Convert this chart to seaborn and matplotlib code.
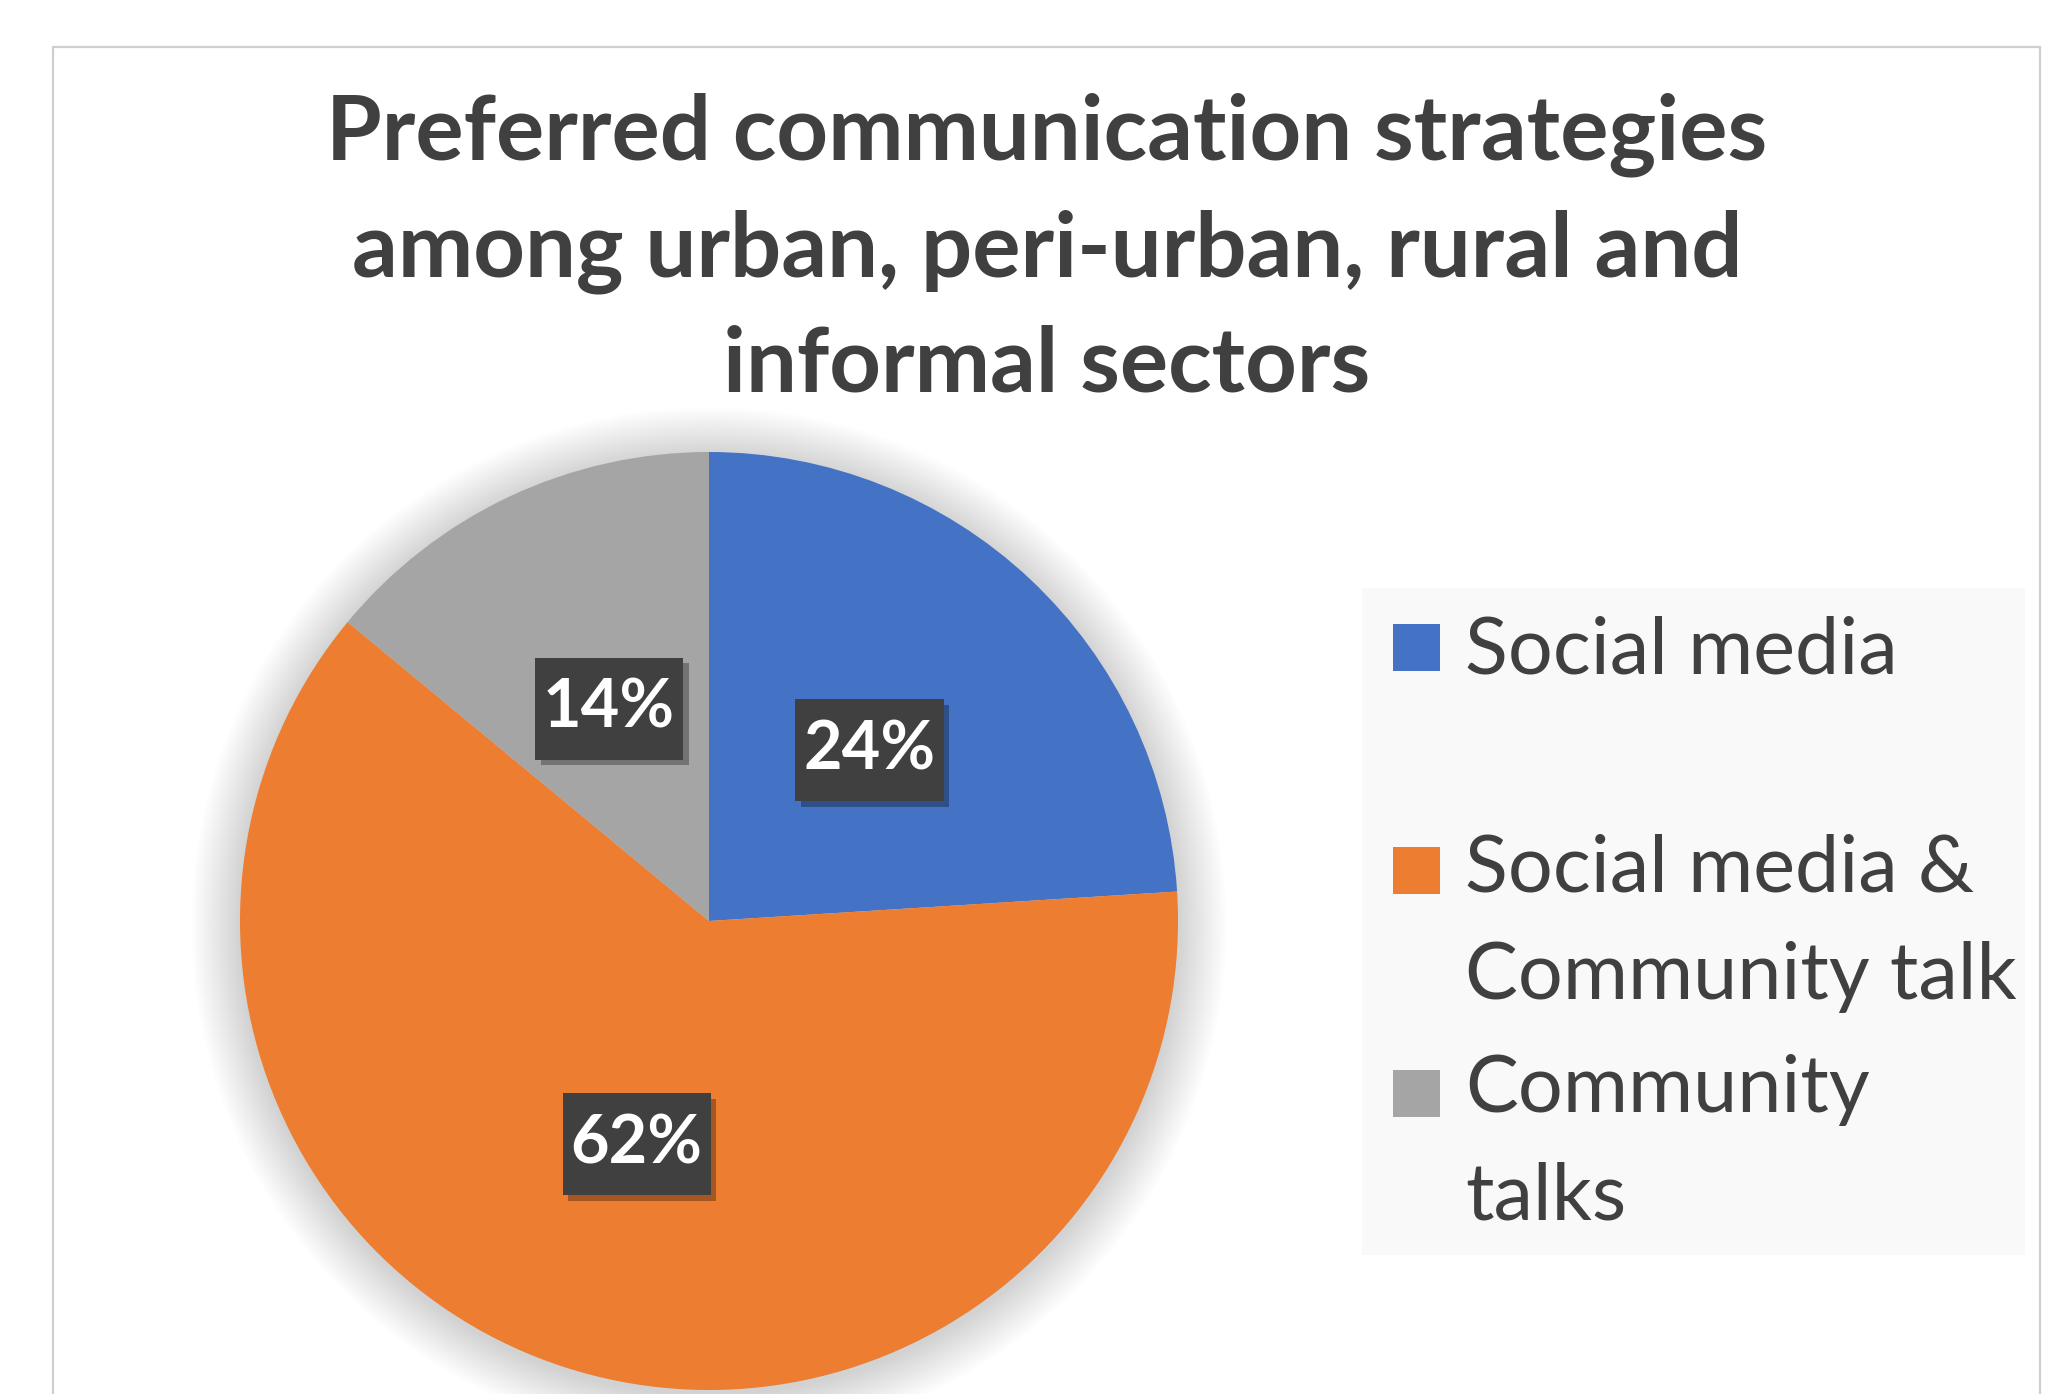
import matplotlib
matplotlib.use("Agg")
import matplotlib.pyplot as plt
import matplotlib.patches as mpatches
import matplotlib.patheffects as pe
from matplotlib.path import Path
import seaborn as sns

# ---- data ----
categories = ["Social media", "Social media & Community talk", "Community talks"]
legend_labels = ["Social media", "Social media &\nCommunity talk", "Community\ntalks"]
shares = [24, 62, 14]
colors = ["#4472C4", "#ED7D31", "#A5A5A5"]
title = "Preferred communication strategies\namong urban, peri-urban, rural and\ninformal sectors"

sns.set_theme(style="white")
palette = sns.color_palette(colors)
plt.rcParams['font.family'] = ['Lato', 'DejaVu Sans']

W, H = 2048, 1394
fig = plt.figure(figsize=(W / 100, H / 100), dpi=100)
fig.patch.set_facecolor('white')

def fx(px):
    return px / W

def fy(py):
    return 1 - py / H

# outer chart frame (bottom edge runs off the image)
fig.add_artist(mpatches.Rectangle((fx(53), -0.05), fx(2040) - fx(53), fy(47) + 0.05,
                                  transform=fig.transFigure, fill=False,
                                  edgecolor='#cfcfcf', linewidth=1.6, zorder=0))

# pie axes
cx, cy, r = 709, 921, 469
half = 1.25 * r
ax = fig.add_axes([fx(cx - half), fy(cy + half), 2 * half / W, 2 * half / H])

# soft shadow behind pie
n = 45
for i in range(n):
    ax.add_patch(mpatches.Circle((0.0, -0.008), 1 + 0.105 * (i + 1) / n,
                                 facecolor='black', edgecolor='none',
                                 alpha=0.0038, zorder=0.2))


def label_box(x0, y0, width, height, mutation_size):
    px = 0.12 * mutation_size
    py = 0.30 * mutation_size
    return Path([(x0 - px, y0 - py), (x0 + width + px, y0 - py),
                 (x0 + width + px, y0 + height + py), (x0 - px, y0 + height + py),
                 (x0 - px, y0 - py)], closed=True)


wedges, texts, autotexts = ax.pie(
    shares, colors=palette, startangle=90, counterclock=False, radius=1,
    autopct=lambda p: f"{p:.0f}%", pctdistance=0.5,
    wedgeprops=dict(linewidth=0, zorder=1),
    textprops=dict(color='white', fontsize=48, fontweight='bold'))
for at in autotexts:
    at.set_bbox(dict(boxstyle=label_box, facecolor='#404040', edgecolor='none'))
    at.get_bbox_patch().set_path_effects(
        [pe.withSimplePatchShadow(offset=(4, -4), shadow_rgbFace='black', alpha=0.3), pe.Normal()])
    at.set_zorder(5)
ax.set_xlim(-1.25, 1.25)
ax.set_ylim(-1.25, 1.25)
ax.set_aspect('equal')
ax.axis('off')

# title (baseline refers to the last line)
fig.text(fx(1047), fy(392), title, ha='center', va='baseline', fontsize=65,
         fontweight='bold', color='#404040', linespacing=1.47)

# legend
fig.add_artist(mpatches.Rectangle((fx(1362), fy(1255)), fx(2025) - fx(1362), fy(588) - fy(1255),
                                  transform=fig.transFigure, facecolor='#f9f9f9',
                                  edgecolor='none', zorder=1))
marker_centers = [647, 870, 1093]
baselines = [673, 999, 1220]
sq = 47
for lab, col, mc, bl in zip(legend_labels, palette, marker_centers, baselines):
    fig.add_artist(mpatches.Rectangle((fx(1393), fy(mc + sq / 2)), sq / W, sq / H,
                                      transform=fig.transFigure, facecolor=col,
                                      edgecolor='none', zorder=2))
    fig.text(fx(1465), fy(bl), lab, ha='left', va='baseline', fontsize=57,
             color='#404040', linespacing=1.62, zorder=3)

fig.savefig('out.png', dpi=100, facecolor='white')
